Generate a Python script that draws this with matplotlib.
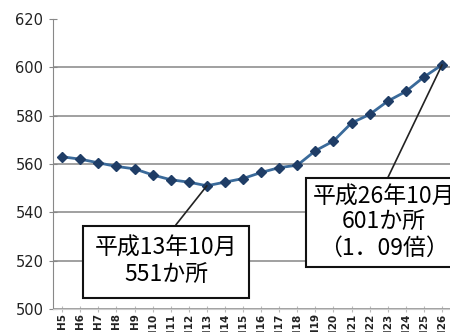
import matplotlib.pyplot as plt
import numpy as np

plt.rcParams['font.family'] = ['DejaVu Sans']

# 年度ラベルと値（か所）
years = ['H5', 'H6', 'H7', 'H8', 'H9', 'H10', 'H11', 'H12', 'H13', 'H14', 'H15',
         'H16', 'H17', 'H18', 'H19', 'H20', 'H21', 'H22', 'H23', 'H24', 'H25', 'H26']
counts = [563, 562, 560.5, 559, 558, 555.5, 553.5, 552.5, 551, 552.5, 554,
          556.5, 558.5, 559.5, 565.5, 569.5, 577, 580.5, 586, 590, 596, 601]
yticks = [500, 520, 540, 560, 580, 600, 620]

note1 = '平成13年10月\n551か所'
note2 = '平成26年10月\n601か所\n（1．09倍）'

fig = plt.figure(figsize=(4.5, 3.32), dpi=100)
ax = fig.add_axes([0.118, 0.069, 0.882, 0.874])

x = np.arange(len(years))
ax.plot(x, counts, color='#3a6a9a', lw=2, marker='D', ms=5,
        mfc='#1f3d66', mec='#1f3d66', zorder=3)

ax.set_ylim(500, 620)
ax.set_xlim(-0.5, 21.44)
ax.set_yticks(yticks)
ax.set_yticklabels([str(v) for v in yticks], fontsize=10.5, color='#222222')
ax.set_xticks(x)
ax.set_xticklabels(years, rotation=90, fontsize=7.5, fontweight='bold', color='#222222')
ax.tick_params(axis='y', direction='inout', length=6, color='#888888', pad=4)
ax.tick_params(axis='x', direction='inout', length=4, color='#bbbbbb', pad=1)

ax.yaxis.grid(True, color='#999999', lw=1.3)
ax.set_axisbelow(True)
ax.yaxis.get_gridlines()[-1].set_visible(False)
for s in ['top', 'right']:
    ax.spines[s].set_visible(False)
ax.spines['left'].set_color('#888888')
ax.spines['bottom'].set_color('#cccccc')

cjk = ['Noto Sans CJK JP', 'DejaVu Sans']
ax.annotate(note1, xy=(8, 551), xytext=(5.75, 519.5), family=cjk,
            fontsize=16.5, ha='center', va='center', linespacing=1.2,
            bbox=dict(boxstyle='square,pad=0.5', fc='white', ec='#111111', lw=1.5),
            arrowprops=dict(arrowstyle='-', color='#222222', lw=1.2, relpos=(0.5, 1),
                            shrinkA=0, shrinkB=0),
            annotation_clip=False, zorder=4)
ax.annotate(note2, xy=(21, 601), xytext=(17.8, 535.8), family=cjk,
            fontsize=16.5, ha='center', va='center', linespacing=1.15,
            bbox=dict(boxstyle='square,pad=0.3', fc='white', ec='#111111', lw=1.5),
            arrowprops=dict(arrowstyle='-', color='#222222', lw=1.2, relpos=(0.5, 1),
                            shrinkA=0, shrinkB=0),
            annotation_clip=False, zorder=4)

fig.savefig('out.png', dpi=100)
